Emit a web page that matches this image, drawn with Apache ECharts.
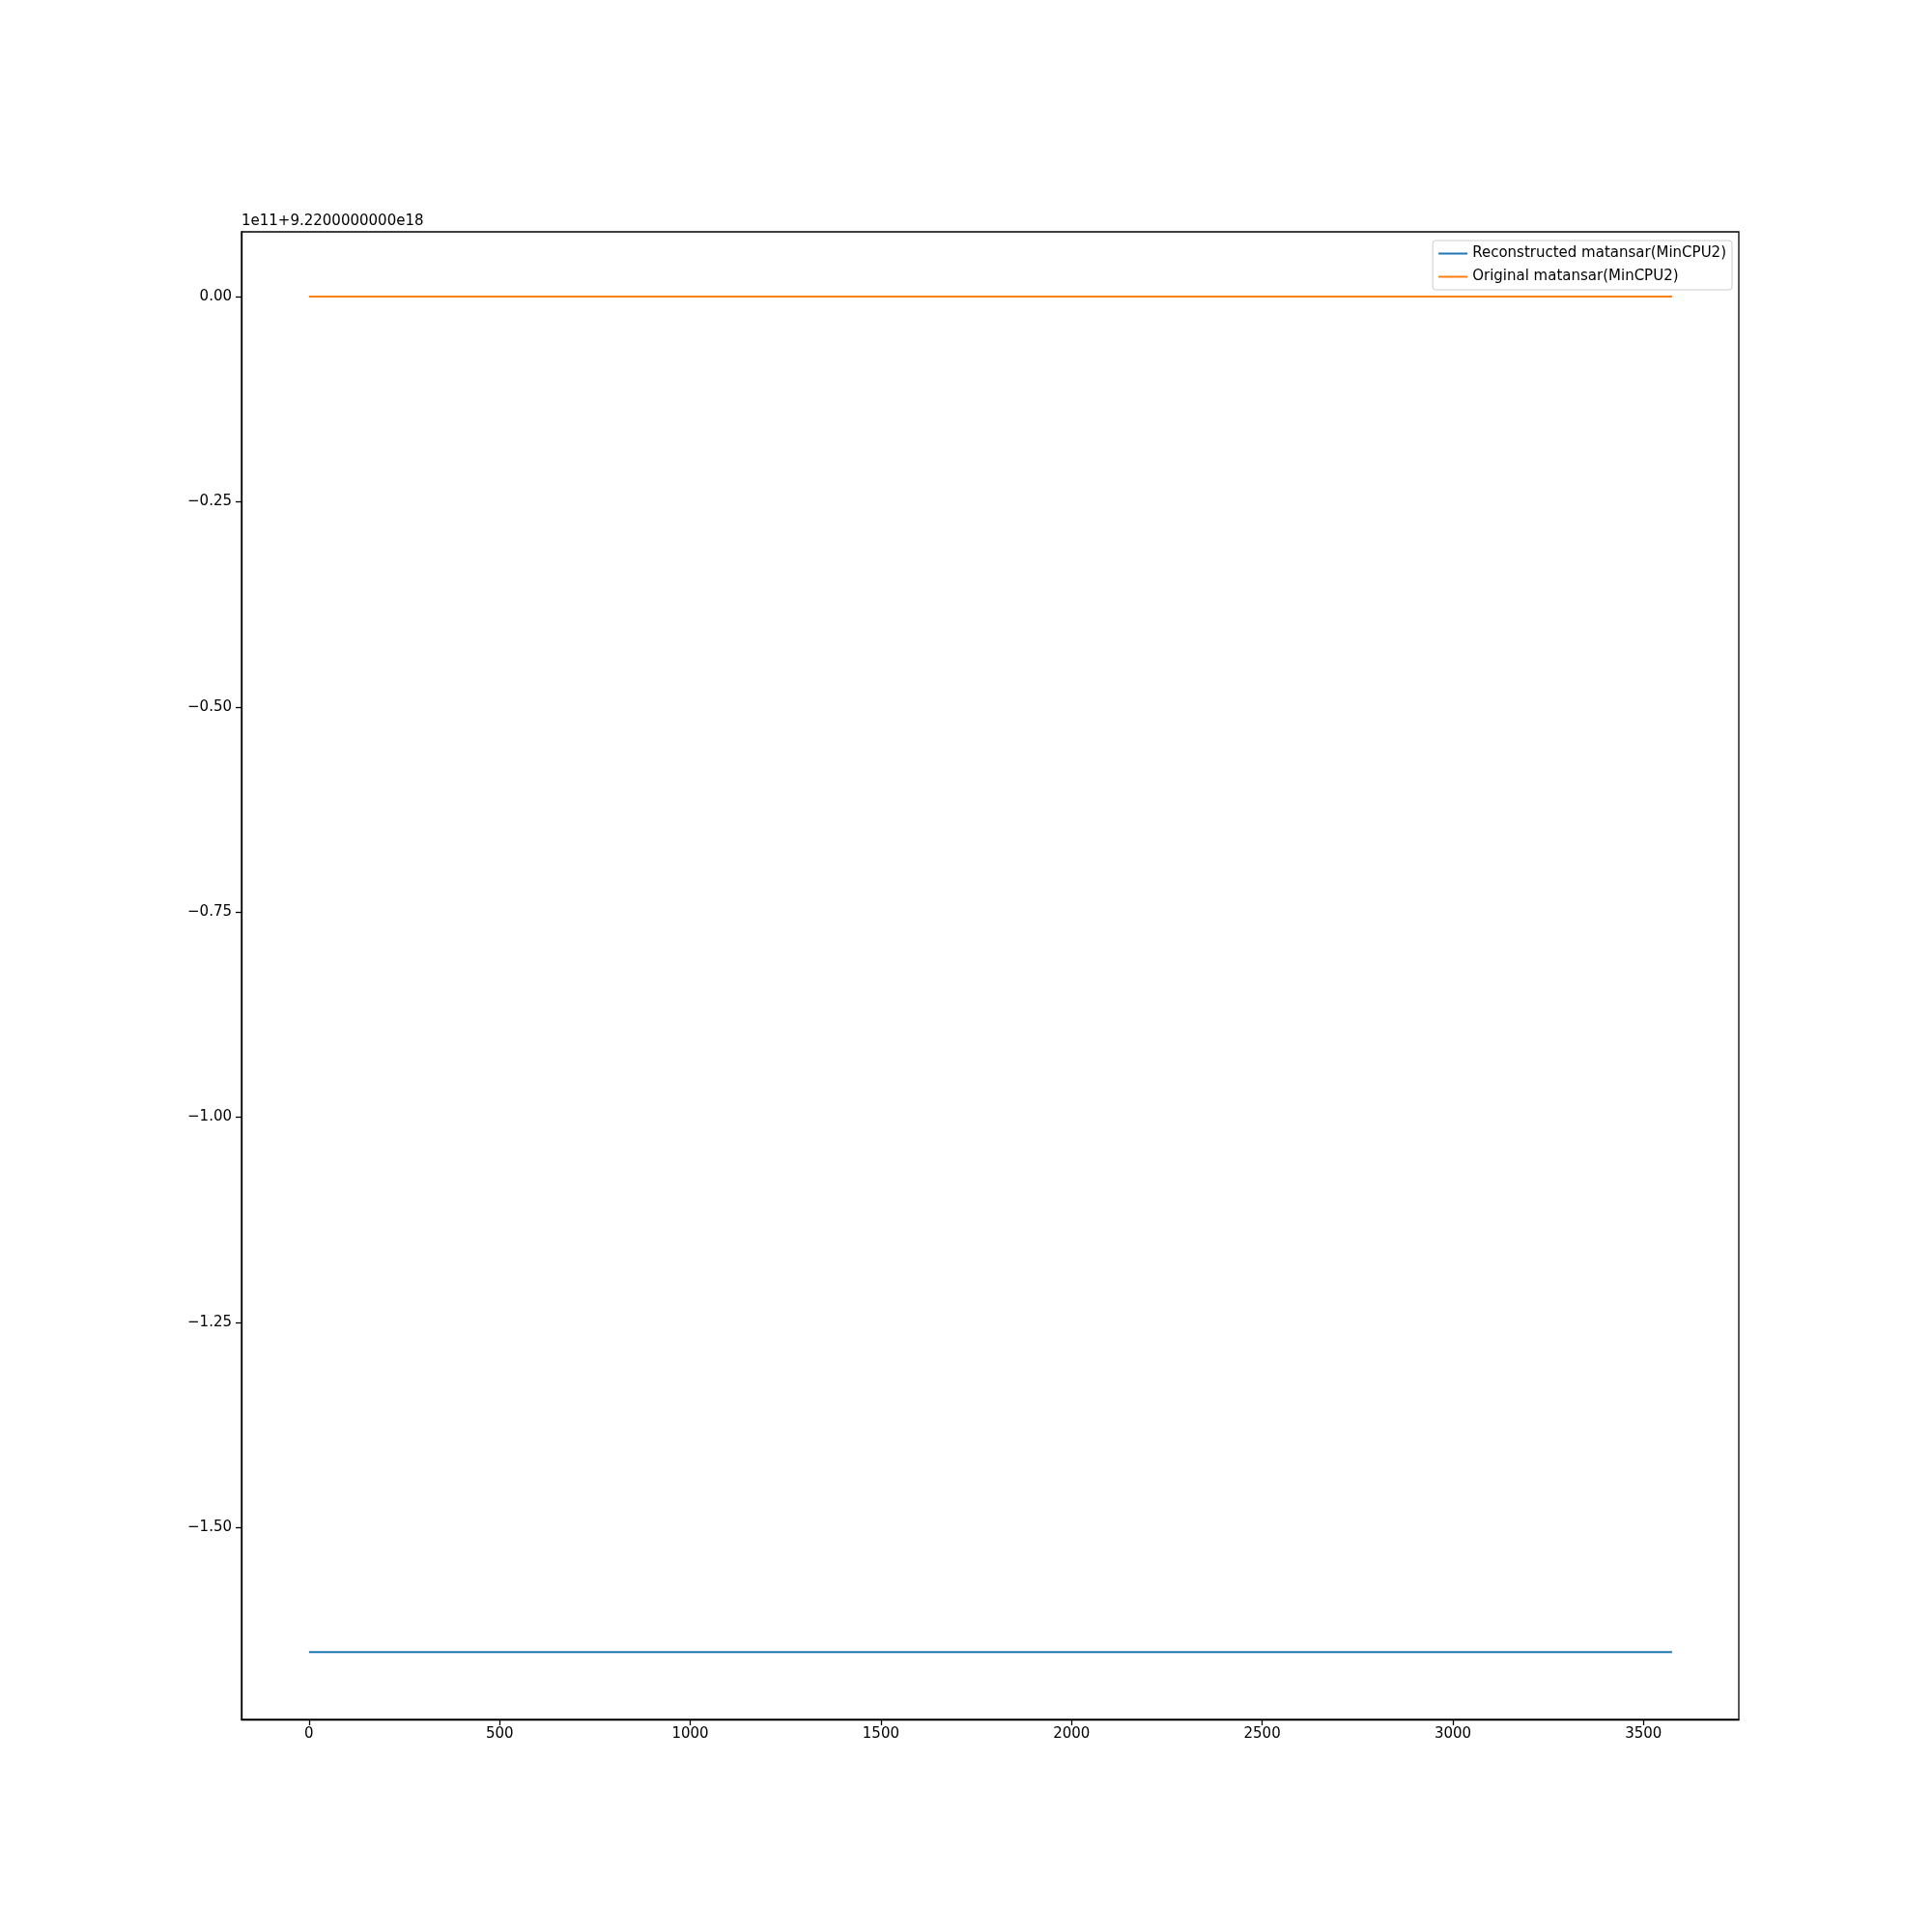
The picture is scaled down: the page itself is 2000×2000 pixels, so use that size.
<!DOCTYPE html>
<html><head><meta charset="utf-8">
<script src="https://cdn.jsdelivr.net/npm/echarts@6/dist/echarts.min.js"></script>
<style>html,body{margin:0;background:#fff}#c{width:2000px;height:2000px}</style>
</head><body><div id="c"></div>
<script>
const xValues = [0, 3575];
const reconstructed = [-1.652, -1.652];
const original = [0, 0];
const yTicks = [0, -0.25, -0.5, -0.75, -1.0, -1.25, -1.5];
const xTicks = [0, 500, 1000, 1500, 2000, 2500, 3000, 3500];
const offsetText = '1e11+9.2200000000e18';
const names = ['Reconstructed matansar(MinCPU2)', 'Original matansar(MinCPU2)'];

const font = 'DejaVu Sans';
const chart = echarts.init(document.getElementById('c'));
const axisCommon = {
  axisLine: {onZero: false, lineStyle: {color: '#000', width: 1.3}},
  axisTick: {show: true, length: 6, lineStyle: {color: '#000', width: 1.3}},
  splitLine: {show: false},
  axisLabel: {color: '#000', fontFamily: font, fontSize: 15}
};
chart.setOption({
  animation: false,
  grid: {left: 250, right: 200, top: 240, bottom: 220, show: true, borderColor: '#000', borderWidth: 1.3, containLabel: false},
  graphic: [{type: 'text', left: 250, top: 222, style: {text: offsetText, font: '15px ' + font, fill: '#000'}}],
  legend: {
    right: 207, top: 249, orient: 'vertical', itemWidth: 30, itemHeight: 2, itemGap: 9,
    borderColor: '#ccc', borderWidth: 1, borderRadius: 3, padding: [6, 6, 6, 6],
    icon: 'rect', textStyle: {fontFamily: font, fontSize: 15, color: '#000'},
    data: names
  },
  xAxis: Object.assign({}, axisCommon, {
    type: 'value', min: -177, max: 3750,
    axisTick: Object.assign({}, axisCommon.axisTick, {customValues: xTicks}),
    axisLabel: Object.assign({}, axisCommon.axisLabel, {customValues: xTicks, margin: 8, formatter: v => String(v)})
  }),
  yAxis: Object.assign({}, axisCommon, {
    type: 'value', min: -1.734, max: 0.079,
    axisTick: Object.assign({}, axisCommon.axisTick, {customValues: yTicks}),
    axisLabel: Object.assign({}, axisCommon.axisLabel, {customValues: yTicks, margin: 10,
      formatter: v => (v < 0 ? '\u2212' : '') + Math.abs(v).toFixed(2)})
  }),
  series: [
    {name: names[0], type: 'line', showSymbol: false, data: xValues.map((x, i) => [x, reconstructed[i]]), lineStyle: {color: '#1f77b4', width: 2}, itemStyle: {color: '#1f77b4'}},
    {name: names[1], type: 'line', showSymbol: false, data: xValues.map((x, i) => [x, original[i]]), lineStyle: {color: '#ff7f0e', width: 2}, itemStyle: {color: '#ff7f0e'}}
  ]
});
</script></body></html>
